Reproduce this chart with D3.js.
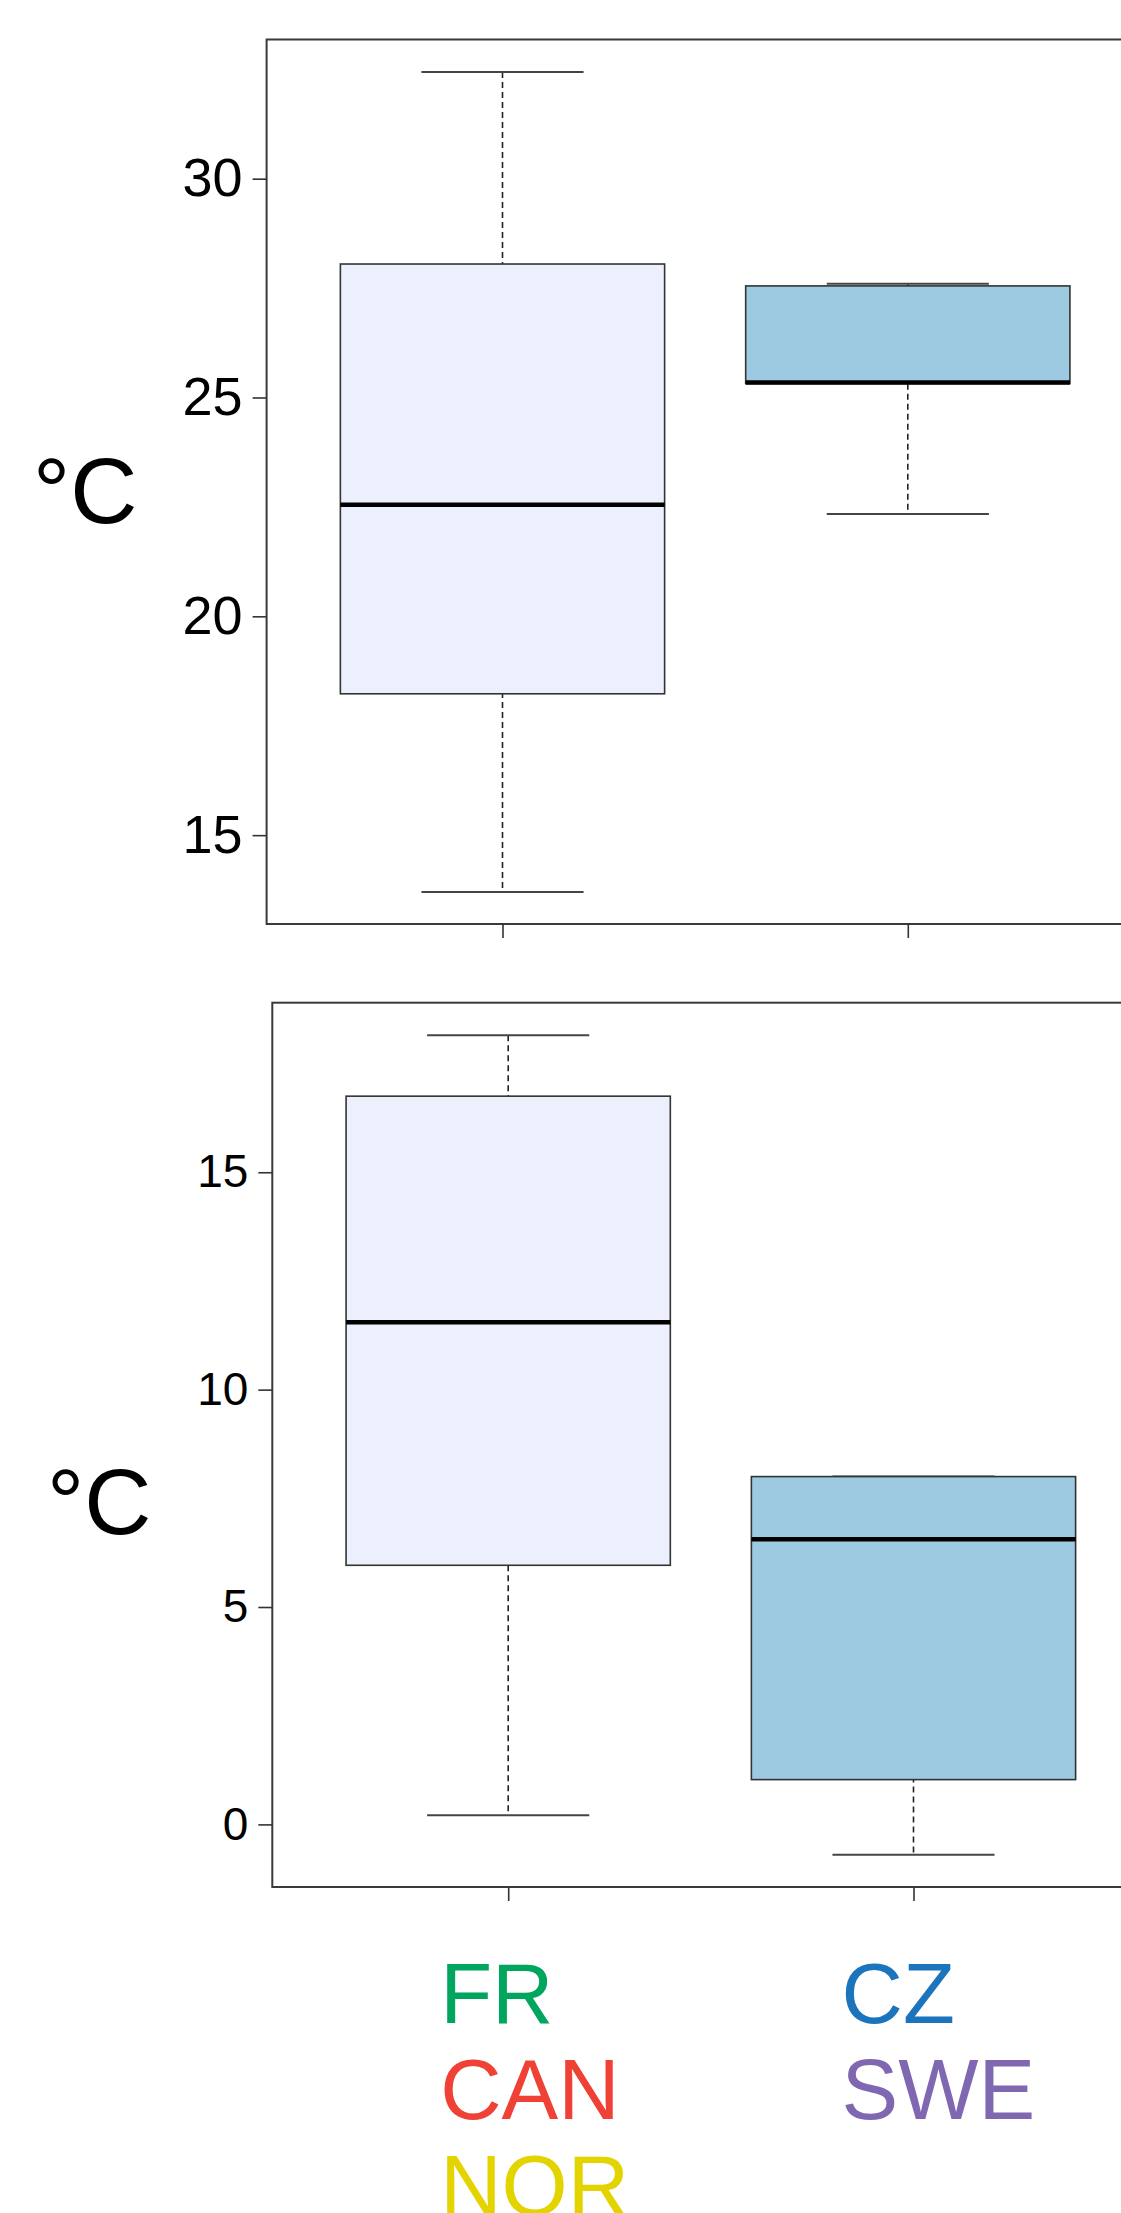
<!DOCTYPE html>
<html>
<head>
<meta charset="utf-8">
<script src="https://cdn.jsdelivr.net/npm/d3@7"></script>
<style>
    body { margin: 0; background: #fff; }
    svg { display: block; font-family: "Liberation Sans", Arial, sans-serif; }
</style>
</head>
<body>
<svg width="1121" height="2213"></svg>
<script>
// Groups (one box per group)
var groups = ['FR', 'CZ'];

// Top panel box statistics (°C)
var topMin = [13.70, 22.34];
var topQ1 = [18.23, 25.32];
var topMedian = [22.55, 25.34];
var topQ3 = [28.05, 27.55];
var topMax = [32.44, 27.60];
var topTicks = [15, 20, 25, 30];

// Bottom panel box statistics (°C)
var bottomMin = [0.21, -0.70];
var bottomQ1 = [5.96, 1.03];
var bottomMedian = [11.55, 6.56];
var bottomQ3 = [16.75, 8.00];
var bottomMax = [18.15, 8.00];
var bottomTicks = [0, 5, 10, 15];

// Country labels under each group
var labelLines = [['FR', 'CAN', 'NOR'], ['CZ', 'SWE']];
var labelColors = [['#00a65d', '#ef4136', '#e3d400'], ['#1c75bc', '#8067b1']];

var boxFills = ['#ecf0fc', '#9ecae1'];

var svg = d3.select('svg');

// Layout for each panel
var panels = [
    {frame: {l: 266.6, t: 39.5, b: 924}, x0: 502.5, yDomain: [12.97, 33.18], ticks: topTicks,
        fontSize: 54, unit: {x: 33, y: 523},
        min: topMin, q1: topQ1, med: topMedian, q3: topQ3, max: topMax},
    {frame: {l: 272.3, t: 1002.7, b: 1887}, x0: 508.2, yDomain: [-1.44, 18.90], ticks: bottomTicks,
        fontSize: 46, unit: {x: 47, y: 1534},
        min: bottomMin, q1: bottomQ1, med: bottomMedian, q3: bottomQ3, max: bottomMax}
];

var step = 405.3;
var boxWidth = step * 0.8;
var lineColor = '#333';

panels.forEach(function(p) {
    var xScale = d3.scalePoint()
        .domain(groups)
        .range([p.x0, p.x0 + step]);
    var yScale = d3.scaleLinear()
        .domain(p.yDomain)
        .range([p.frame.b, p.frame.t]);

    var g = svg.append('g');

    // Frame (right side runs past the page edge)
    g.append('rect')
        .attr('x', p.frame.l)
        .attr('y', p.frame.t)
        .attr('width', 1400)
        .attr('height', p.frame.b - p.frame.t)
        .attr('fill', 'none')
        .attr('stroke', '#3a3a3a')
        .attr('stroke-width', 2);

    // Y axis
    var yAxisG = g.append('g')
        .attr('transform', 'translate(' + [p.frame.l, 0] + ')')
        .call(d3.axisLeft(yScale).tickValues(p.ticks).tickSize(14).tickPadding(10).tickSizeOuter(0));
    yAxisG.select('.domain').remove();
    yAxisG.selectAll('line').attr('stroke', lineColor).attr('stroke-width', 1.6);
    yAxisG.selectAll('text')
        .attr('fill', '#000')
        .style('font-size', p.fontSize + 'px')
        .style('font-family', '"Liberation Sans", Arial, sans-serif');

    // X axis ticks only
    var xAxisG = g.append('g')
        .attr('transform', 'translate(' + [0, p.frame.b] + ')')
        .call(d3.axisBottom(xScale).tickSize(14).tickFormat('').tickSizeOuter(0));
    xAxisG.select('.domain').remove();
    xAxisG.selectAll('line').attr('stroke', lineColor).attr('stroke-width', 1.6);

    // Unit label
    g.append('text')
        .attr('x', p.unit.x)
        .attr('y', p.unit.y)
        .style('font-size', '93px')
        .attr('fill', '#000')
        .text('°C');

    var boxes = g.selectAll('.box')
        .data(groups)
        .enter()
        .append('g')
        .attr('class', 'box');

    // Dashed whiskers
    boxes.append('line')
        .attr('x1', function(d) { return xScale(d); })
        .attr('x2', function(d) { return xScale(d); })
        .attr('y1', function(d, i) { return yScale(p.max[i]); })
        .attr('y2', function(d, i) { return yScale(p.min[i]); })
        .attr('stroke', '#222')
        .attr('stroke-width', 1.6)
        .attr('stroke-dasharray', '6,4');

    // Whisker caps
    ['min', 'max'].forEach(function(key) {
        boxes.append('line')
            .attr('x1', function(d) { return xScale(d) - boxWidth / 4; })
            .attr('x2', function(d) { return xScale(d) + boxWidth / 4; })
            .attr('y1', function(d, i) { return yScale(p[key][i]); })
            .attr('y2', function(d, i) { return yScale(p[key][i]); })
            .attr('stroke', '#444')
            .attr('stroke-width', 2);
    });

    // Boxes
    boxes.append('rect')
        .attr('x', function(d) { return xScale(d) - boxWidth / 2; })
        .attr('y', function(d, i) { return yScale(p.q3[i]); })
        .attr('width', boxWidth)
        .attr('height', function(d, i) { return yScale(p.q1[i]) - yScale(p.q3[i]); })
        .attr('fill', function(d, i) { return boxFills[i]; })
        .attr('stroke', lineColor)
        .attr('stroke-width', 1.6);

    // Medians
    boxes.append('line')
        .attr('x1', function(d) { return xScale(d) - boxWidth / 2; })
        .attr('x2', function(d) { return xScale(d) + boxWidth / 2; })
        .attr('y1', function(d, i) { return yScale(p.med[i]); })
        .attr('y2', function(d, i) { return yScale(p.med[i]); })
        .attr('stroke', '#000')
        .attr('stroke-width', 4.5);

    // Country labels under the last panel
    if (p === panels[panels.length - 1]) {
        var labelG = svg.append('g');
        groups.forEach(function(grp, i) {
            labelLines[i].forEach(function(txt, j) {
                labelG.append('text')
                    .attr('x', xScale(grp) - 68 - i * 4)
                    .attr('y', 2023 + j * 96)
                    .attr('fill', labelColors[i][j])
                    .style('font-size', '85px')
                    .text(txt);
            });
        });
    }
});
</script>
</body>
</html>
